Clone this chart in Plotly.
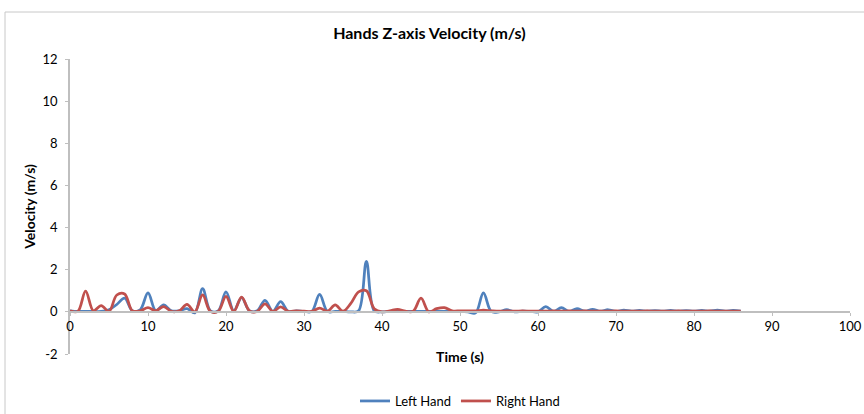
import plotly.graph_objects as go

time_s = list(range(0, 87))

left_hand = [
    0.05, 0.02, 0.02, 0.02, 0.02, 0.10, 0.35, 0.65, 0.05, 0.10,   # 0-9
    0.90, 0.05, 0.33, 0.05, 0.05, 0.15, -0.05, 1.10, 0.05, 0.05,  # 10-19
    0.95, 0.05, 0.68, 0.05, 0.05, 0.55, 0.02, 0.48, 0.02, 0.05,   # 20-29
    0.02, 0.02, 0.83, 0.02, 0.02, 0.02, 0.00, 0.05, 2.40, 0.05,   # 30-39
    0.00, 0.02, 0.02, 0.02, 0.02, 0.02, 0.02, 0.02, 0.02, 0.02,   # 40-49
    0.02, 0.00, -0.05, 0.90, 0.02, 0.00, 0.10, 0.00, 0.03, 0.02,  # 50-59
    0.00, 0.25, 0.02, 0.20, 0.02, 0.15, 0.03, 0.12, 0.03, 0.10,   # 60-69
    0.02, 0.08, 0.03, 0.07, 0.03, 0.06, 0.03, 0.07, 0.03, 0.06,   # 70-79
    0.03, 0.07, 0.03, 0.08, 0.03, 0.07, 0.04,                     # 80-86
]

right_hand = [
    0.05, 0.02, 0.98, 0.05, 0.30, 0.02, 0.80, 0.85, 0.05, 0.05,   # 0-9
    0.20, 0.05, 0.25, 0.02, 0.05, 0.35, 0.00, 0.80, 0.02, 0.02,   # 10-19
    0.73, 0.02, 0.70, 0.05, 0.02, 0.38, 0.02, 0.24, 0.02, 0.05,   # 20-29
    0.03, 0.02, 0.18, 0.03, 0.33, 0.03, 0.40, 0.95, 1.00, 0.15,   # 30-39
    0.00, 0.05, 0.12, 0.03, 0.03, 0.65, 0.00, 0.15, 0.20, 0.05,   # 40-49
    0.05, 0.05, 0.05, 0.08, 0.05, 0.03, 0.05, 0.03, 0.05, 0.03,   # 50-59
    0.04, 0.03, 0.05, 0.03, 0.05, 0.03, 0.05, 0.03, 0.04, 0.03,   # 60-69
    0.05, 0.03, 0.04, 0.03, 0.05, 0.03, 0.04, 0.03, 0.05, 0.03,   # 70-79
    0.04, 0.03, 0.05, 0.03, 0.04, 0.03, 0.04,                     # 80-86
]

x_ticks = [0, 10, 20, 30, 40, 50, 60, 70, 80, 90, 100]
y_ticks = [-2, 0, 2, 4, 6, 8, 10, 12]

FONT = "Lato"

fig = go.Figure()
fig.add_trace(go.Scatter(
    x=time_s, y=left_hand, name="Left Hand", mode="lines",
    line=dict(color="#4F81BD", width=2.75, shape="spline", smoothing=1.0),
))
fig.add_trace(go.Scatter(
    x=time_s, y=right_hand, name="Right Hand", mode="lines",
    line=dict(color="#C0504D", width=2.75, shape="spline", smoothing=1.0),
))

# plot area: x 70..850 px, y 59..354 px
zero_pos = (354 - 312) / 295.0

fig.update_layout(
    width=864, height=414,
    margin=dict(l=70, r=14, t=59, b=60, autoexpand=False),
    paper_bgcolor="white", plot_bgcolor="white",
    font=dict(family=FONT, size=13, color="#000000"),
    title=dict(text="<b>Hands Z-axis Velocity (m/s)</b>", x=0.497, xanchor="center",
               y=1 - 33 / 414, yanchor="middle",
               font=dict(family=FONT, size=16, color="#000000")),
    xaxis=dict(
        range=[0, 100], tickvals=x_ticks, ticktext=[str(v) for v in x_ticks],
        anchor="free", position=zero_pos, automargin=False,
        showline=True, linecolor="#BFBFBF", linewidth=1.5,
        ticks="outside", ticklen=3, tickcolor="#BFBFBF",
        showgrid=False, zeroline=False,
        tickfont=dict(family=FONT, size=13, color="#000000"),
        title=dict(text="<b>Time (s)</b>", standoff=18,
                   font=dict(family=FONT, size=14, color="#000000")),
    ),
    yaxis=dict(
        range=[-2, 12], tickvals=y_ticks, ticktext=[str(v) for v in y_ticks],
        automargin=False, ticklabelstandoff=5,
        showline=True, linecolor="#BFBFBF", linewidth=1.5,
        ticks="outside", ticklen=3, tickcolor="#BFBFBF",
        showgrid=False, zeroline=False,
        tickfont=dict(family=FONT, size=13, color="#000000"),
        title=dict(text="<b>Velocity (m/s)</b>", standoff=4,
                   font=dict(family=FONT, size=14, color="#000000")),
    ),
    legend=dict(orientation="h", x=0.5, xanchor="center",
                y=(354 - 401) / 295.0, yanchor="middle",
                font=dict(family=FONT, size=13, color="#000000"),
                itemwidth=30, tracegroupgap=0),
    shapes=[dict(type="rect", xref="paper", yref="paper",
                 x0=(5 - 70) / 780.0, x1=(900 - 70) / 780.0,
                 y0=(354 - 450) / 295.0, y1=(354 - 12) / 295.0,
                 line=dict(color="#C8C8C8", width=1), fillcolor="rgba(0,0,0,0)",
                 layer="below")],
)

fig.write_html("out.html")
